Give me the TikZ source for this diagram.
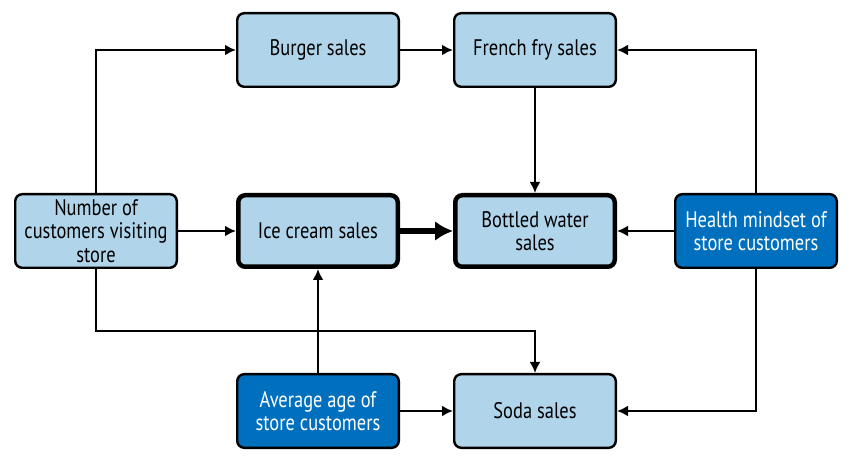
\documentclass[tikz,border=0pt]{standalone}
\usepackage{fontspec}
\setmainfont{PT Sans}[FakeStretch=0.82]
\usepackage{xcolor}
\usetikzlibrary{arrows.meta}
\definecolor{lightbox}{RGB}{176,212,234}
\definecolor{darkbox}{RGB}{0,112,190}

\begin{document}
\begin{tikzpicture}[x=1pt,y=1pt,
    box/.style={draw,line width=2.4pt,rounded corners=7pt,fill=lightbox,align=center,
        minimum width=161.6pt,minimum height=73.6pt,inner sep=0pt,
        font=\fontsize{22.5}{23.5}\selectfont},
    boldbox/.style={box,line width=4.5pt,minimum width=159.5pt,minimum height=71.5pt},
    darkbox/.style={box,fill=darkbox,text=white},
    link/.style={line width=2.4pt,-{Latex[length=11pt,width=11pt]}},
    boldlink/.style={line width=6pt,-{Latex[length=18pt,width=20pt]}}]
    \useasboundingbox (0,0) rectangle (852,461);
    % nodes
    \node[box] (customers) at (96,230) {Number of\\customers visiting\\store};
    \node[boldbox] (icecream) at (318,230) {Ice cream sales};
    \node[boldbox] (water) at (535,230) {Bottled water\\sales};
    \node[darkbox] (health) at (756,230) {Health mindset of\\store customers};
    \node[box] (burger) at (318,411) {Burger sales};
    \node[box] (fries) at (535,411) {French fry sales};
    \node[darkbox] (age) at (318,50) {Average age of\\store customers};
    \node[box] (soda) at (535,50) {Soda sales};
    % connectors
    \draw[link] (customers.north) |- (burger.west);
    \draw[link] (burger) -- (fries);
    \draw[link] (health.north) |- (fries.east);
    \draw[link] (fries) -- (water);
    \draw[link] (customers) -- (icecream);
    \draw[boldlink] (icecream) -- (water);
    \draw[link] (health) -- (water);
    \draw[link] (customers.south) -- ++(0,-62) -| (soda.north);
    \draw[link] (age) -- (icecream);
    \draw[link] (age) -- (soda);
    \draw[link] (health.south) |- (soda.east);
\end{tikzpicture}
\end{document}
